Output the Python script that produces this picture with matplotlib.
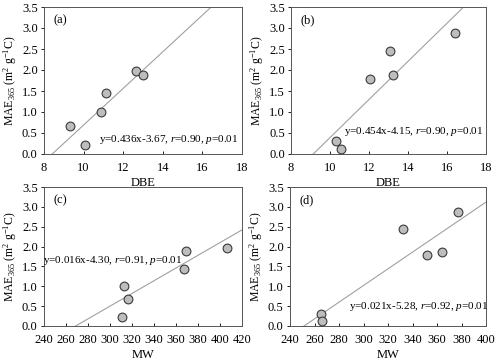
import matplotlib
matplotlib.use("Agg")
import matplotlib.pyplot as plt
import numpy as np

plt.rcParams['font.family'] = ['Liberation Serif', 'DejaVu Serif']
plt.rcParams['mathtext.fontset'] = 'custom'
plt.rcParams['mathtext.rm'] = 'Liberation Serif'
plt.rcParams['mathtext.it'] = 'Liberation Serif:italic'

# Data
a_x = [9.3, 10.05, 10.9, 11.15, 12.65, 13.0]
a_y = [0.67, 0.22, 1.0, 1.45, 1.97, 1.88]
b_x = [10.3, 10.55, 12.05, 13.1, 13.25, 16.4]
b_y = [0.30, 0.12, 1.78, 2.45, 1.87, 2.87]
c_x = [311, 313, 316, 367, 369, 406]
c_y = [0.22, 1.0, 0.67, 1.44, 1.88, 1.97]
d_x = [265, 266, 332, 352, 364, 377]
d_y = [0.30, 0.12, 2.45, 1.78, 1.87, 2.87]

fits = {'a': (0.436, -3.67), 'b': (0.454, -4.15), 'c': (0.016, -4.30), 'd': (0.021, -5.28)}
labels = {'a': 'y=0.436x-3.67, $\\it{r}$=0.90, $\\it{p}$=0.01',
          'b': 'y=0.454x-4.15, $\\it{r}$=0.90, $\\it{p}$=0.01',
          'c': 'y=0.016x-4.30, $\\it{r}$=0.91, $\\it{p}$=0.01',
          'd': 'y=0.021x-5.28, $\\it{r}$=0.92, $\\it{p}$=0.01'}

W, H = 500, 363
fig = plt.figure(figsize=(5, 3.63), dpi=100)

def px(l, t, r, b):
    return [l / W, (H - b) / H, (r - l) / W, (b - t) / H]

panels = [
    ('a', a_x, a_y, px(44, 7, 242, 154), (8, 18), np.arange(8, 19, 2), 'DBE', (10.78, 0.35)),
    ('b', b_x, b_y, px(291, 7, 486, 154), (8, 18), np.arange(8, 19, 2), 'DBE', (10.72, 0.54)),
    ('c', c_x, c_y, px(44, 187, 242, 326), (240, 420), np.arange(240, 421, 20), 'MW', (239.5, 1.64)),
    ('d', d_x, d_y, px(290, 187, 486, 326), (240, 400), np.arange(240, 401, 20), 'MW', (288, 0.5)),
]

fs = 8
tfs = 9
for key, xs, ys, rect, xlim, xt, xl, tpos in panels:
    ax = fig.add_axes(rect)
    m, c = fits[key]
    xx = np.linspace(xlim[0], xlim[1], 200)
    yy = m * xx + c
    ax.plot(xx, yy, color='#a0a0a0', lw=0.8, zorder=1)
    ax.scatter(xs, ys, s=40, facecolor='#bdbdbd', edgecolor='#3a3a3a', linewidths=0.8, zorder=3)
    ax.set_xlim(*xlim)
    ax.set_ylim(0, 3.5)
    ax.set_xticks(xt)
    ax.set_yticks(np.arange(0, 3.51, 0.5))
    ax.set_yticklabels(['%.1f' % v for v in np.arange(0, 3.51, 0.5)])
    ax.tick_params(axis='x', labelsize=tfs, length=2.5, width=0.6, direction='in', pad=6)
    ax.tick_params(axis='y', labelsize=tfs, length=2.5, width=0.6, direction='out', pad=2)
    for s in ax.spines.values():
        s.set_linewidth(0.7)
        s.set_color('#555555')
    ax.set_xlabel(xl, fontsize=tfs, labelpad=2)
    ax.set_ylabel('MAE$_{365}$ (m$^{2}$ g$^{-1}$C)', fontsize=8.5, labelpad=2)
    ax.text(0.05, 0.95, '(%s)' % key, transform=ax.transAxes, fontsize=tfs, va='top', ha='left')
    ax.text(tpos[0], tpos[1], labels[key], fontsize=fs, va='center', ha='left', zorder=4)

fig.savefig('out.png', dpi=100)
